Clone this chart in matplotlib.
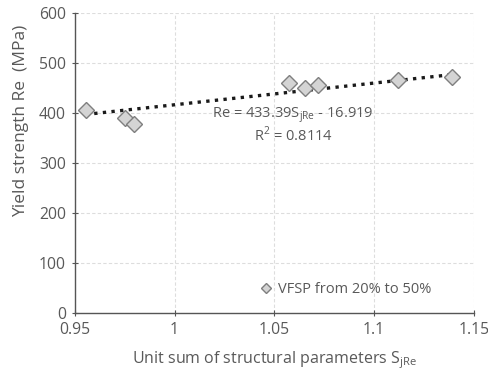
import matplotlib
matplotlib.use("Agg")
import matplotlib.pyplot as plt
import numpy as np

plt.rcParams['font.family'] = ['Open Sans', 'DejaVu Sans']
plt.rcParams['mathtext.fontset'] = 'custom'
plt.rcParams['mathtext.rm'] = 'Open Sans'

# Data
s_jre = [0.9554, 0.9752, 0.9797, 1.0575, 1.0653, 1.0720, 1.1120, 1.1389]
re_mpa = [406, 391, 378, 460, 450, 456, 466, 471]
fit_slope = 433.39
fit_intercept = -16.919
r2 = 0.8114
series_label = "VFSP from 20% to 50%"
x_ticks = [0.95, 1.0, 1.05, 1.1, 1.15]
x_tick_labels = ["0.95", "1", "1.05", "1.1", "1.15"]
y_ticks = [0, 100, 200, 300, 400, 500, 600]

fig = plt.figure(figsize=(4.89, 3.78), dpi=100)
ax = fig.add_axes([0.153, 0.171, 0.816, 0.795])

xs = np.array([min(s_jre), max(s_jre)])
ax.plot(xs, fit_slope * xs + fit_intercept, linestyle=(0, (1, 1.6)), color='#1a1a1a',
        linewidth=2.4, zorder=3)
ax.plot(s_jre, re_mpa, linestyle='none', marker='D', markersize=8.5,
        markerfacecolor='#d4d4d4', markeredgecolor='#7f7f7f', markeredgewidth=1.0,
        label=series_label, zorder=4)

ax.set_xlim(0.95, 1.15)
ax.set_ylim(0, 600)
ax.set_xticks(x_ticks)
ax.set_xticklabels(x_tick_labels)
ax.set_yticks(y_ticks)

ax.grid(True, linestyle=(0, (3, 2)), color='#dddddd', linewidth=0.8)
ax.set_axisbelow(True)
for s in ['top', 'right']:
    ax.spines[s].set_visible(False)
for s in ['left', 'bottom']:
    ax.spines[s].set_color('#555555')
    ax.spines[s].set_linewidth(1.0)
ax.tick_params(axis='both', direction='inout', length=5, color='#555555',
               labelsize=11.3, labelcolor='#595959', pad=4)

ax.set_xlabel(r"Unit sum of structural parameters S$_{\mathregular{jRe}}$", fontsize=11.5,
              color='#595959', labelpad=8)
ax.set_ylabel("Yield strength Re  (MPa)", fontsize=12.5, color='#595959')
ax.yaxis.set_label_coords(-0.115, 0.64)

ax.text(1.0594, 396, r"Re = 433.39S$_{\mathregular{jRe}}$ - 16.919", ha='center', va='center',
        fontsize=10.5, color='#595959')
ax.text(1.0594, 356, "R$^{\\mathregular{2}}$ = %.4f" % r2, ha='center', va='center',
        fontsize=10.5, color='#595959')

leg = ax.legend(loc='center left', bbox_to_anchor=(0.44, 0.08), frameon=False,
                fontsize=10.5, handletextpad=0.2, markerscale=0.6, borderpad=0,
                handlelength=1.2)
for t in leg.get_texts():
    t.set_color('#595959')

fig.savefig("out.png", dpi=100)
